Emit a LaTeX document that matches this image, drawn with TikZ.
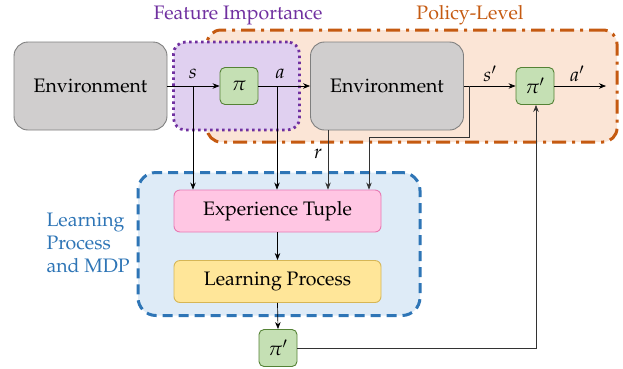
\documentclass[tikz,border=0pt]{standalone}
\usepackage[T1]{fontenc}
\usepackage{mathpazo}
\usetikzlibrary{arrows.meta,calc}
\definecolor{envfill}{HTML}{D0CECE}
\definecolor{envdraw}{HTML}{7F7F7F}
\definecolor{pifill}{HTML}{C5E0B4}
\definecolor{pidraw}{HTML}{548235}
\definecolor{purfill}{HTML}{E0D0F0}
\definecolor{purdraw}{HTML}{7030A0}
\definecolor{orfill}{HTML}{FBE5D6}
\definecolor{ordraw}{HTML}{C55A11}
\definecolor{blfill}{HTML}{DEEBF7}
\definecolor{bldraw}{HTML}{2E75B6}
\definecolor{pkfill}{HTML}{FFC6E3}
\definecolor{pkdraw}{HTML}{E879B3}
\definecolor{yefill}{HTML}{FFE699}
\definecolor{yedraw}{HTML}{D6B656}
\tikzset{
  envbox/.style={draw=envdraw, fill=envfill, rounded corners=14pt, line width=0.9pt, minimum width=153pt, minimum height=88pt, inner sep=0pt},
  pibox/.style={draw=pidraw, fill=pifill, rounded corners=5pt, line width=0.9pt, minimum width=38pt, minimum height=37pt, inner sep=0pt},
  procbox/.style={rounded corners=6pt, line width=0.9pt, minimum width=207pt, minimum height=42pt, inner sep=0pt},
  arr/.style={-{Stealth[length=7pt,width=5.5pt]}, line width=0.7pt, black},
}
\begin{document}
\begin{tikzpicture}[x=1pt,y=-1pt, font=\fontsize{19.5}{23}\selectfont]
\useasboundingbox (0,0) rectangle (623,368);
% group boxes
\node[draw=ordraw, fill=orfill, line width=3pt, rounded corners=14pt,
  dash pattern=on 14pt off 6pt on 3pt off 6pt,
  minimum width=410pt, minimum height=112pt, inner sep=0pt] (polbox) at (412,86) {};
\node[draw=purdraw, fill=purfill, line width=2.8pt, rounded corners=12pt,
  dash pattern=on 2.5pt off 3.5pt,
  minimum width=126pt, minimum height=88pt, inner sep=0pt] (fibox) at (236.5,86) {};
\node[draw=bldraw, fill=blfill, line width=3pt, rounded corners=18pt,
  dash pattern=on 10pt off 6pt,
  minimum width=282pt, minimum height=143pt, inner sep=0pt] (lpbox) at (279,244) {};
% titles
\node[text=purdraw] (fititle) at (238,15) {Feature Importance};
\node[text=ordraw] (poltitle) at (470,15) {Policy-Level};
\node[text=bldraw, align=left, anchor=west, font=\fontsize{19.5}{23}\selectfont] (lptitle) at (43,243) {Learning\\Process\\and MDP};
% nodes
\node[envbox] (env1) at (90.5,86) {Environment};
\node[envbox] (env2) at (387,86) {Environment};
\node[pibox] (pi) at (239,86) {$\pi$};
\node[pibox] (pip) at (535,86) {$\pi'$};
\node[procbox, draw=pkdraw, fill=pkfill] (et) at (277.5,211) {Experience Tuple};
\node[procbox, draw=yedraw, fill=yefill] (lp) at (277.5,281.5) {Learning Process};
\node[pibox] (pib) at (278,348) {$\pi'$};
% branch coordinates
\coordinate (sb) at (193,86);
\coordinate (ab) at (277,86);
\coordinate (rb) at (328,130);
\coordinate (spb) at (469,86);
\coordinate (spc) at (469,137);
\coordinate (spd) at (369,137);
\coordinate (aend) at (606,86);
\coordinate (lret) at (536,348);
% connectors
\draw[arr] (env1.east) -- (pi.west);
\draw[arr] (pi.east) -- (env2.west);
\draw[arr] (env2.east) -- (pip.west);
\draw[arr] (pip.east) -- (aend);
\draw[arr] (sb) -- (sb |- et.north);
\draw[arr] (ab) -- (ab |- et.north);
\draw[arr, black!80] (rb) -- (rb |- et.north);
\draw[arr, black!80] (spb) -- (spc) -- (spd) -- (spd |- et.north);
\draw[arr] (et.south) -- (lp.north);
\draw[arr] (lp.south) -- (pib.north);
\draw[arr, black!80] (pib.east) -- (lret) -- (lret |- pip.south);
% labels
\node (slab) at (193,74) {$s$};
\node (alab) at (280,74) {$a$};
\node (rlab) at (318,154) {$r$};
\node (splab) at (490,74) {$s'$};
\node (aplab) at (577,74) {$a'$};
\end{tikzpicture}
\end{document}
